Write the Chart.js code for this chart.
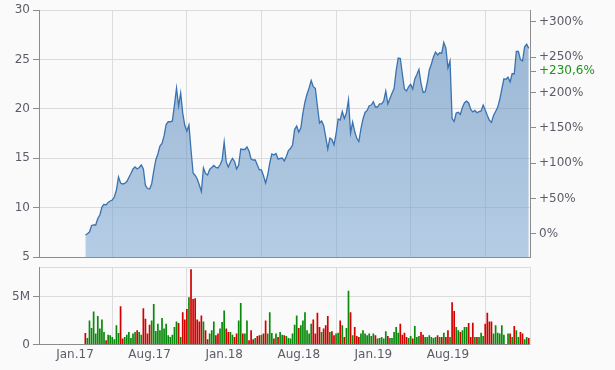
<!DOCTYPE html>
<html>
<head>
<meta charset="utf-8">
<script src="https://cdn.jsdelivr.net/npm/chart.js@4"></script>
<style>
  html, body { margin: 0; padding: 0; background: #fafafa; }
  #wrap { position: relative; width: 615px; height: 370px; overflow: hidden; }
  canvas { position: absolute; left: 0; }
  #priceChart { top: 0; }
  #volChart { top: 262px; }
</style>
</head>
<body>
<div id="wrap">
  <canvas id="priceChart" width="615" height="268"></canvas>
  <canvas id="volChart" width="615" height="108"></canvas>
</div>
<script>
// sample index of the first point (x axis unit: ~5 calendar days, 36 per half year)
const startIdx = 5;

// closing prices
const prices = [
  7.23, 7.35, 7.53, 8.19, 8.24, 8.24, 8.90, 9.25, 10.06, 10.33,
  10.26, 10.52, 10.67, 10.77, 11.07, 11.78, 13.10, 12.49, 12.39, 12.44,
  12.64, 13.05, 13.45, 13.91, 14.11, 13.91, 14.06, 14.31, 13.91, 12.24,
  11.93, 11.88, 12.39, 13.70, 14.82, 15.43, 16.23, 16.49, 17.25, 18.41,
  18.69, 18.69, 18.77, 20.38, 22.11, 20.28, 21.60, 19.57, 18.31, 17.75,
  18.36, 15.83, 13.50, 13.25, 12.89, 12.29, 11.63, 14.01, 13.45, 13.30,
  13.86, 14.06, 14.26, 14.06, 14.01, 14.31, 14.82, 16.64, 14.62, 14.11,
  14.62, 14.97, 14.67, 13.91, 14.31, 15.93, 15.88, 15.88, 16.13, 15.73,
  14.92, 14.82, 14.82, 14.31, 13.81, 13.81, 13.20, 12.49, 13.30, 14.51,
  15.43, 15.32, 15.48, 14.92, 14.97, 15.02, 14.72, 15.17, 15.78, 15.98,
  16.34, 17.90, 18.26, 17.65, 18.06, 19.57, 20.69, 21.50, 22.11, 22.86,
  22.24, 22.07, 20.28, 18.56, 18.77, 18.31, 17.15, 15.93, 17.04, 16.89,
  16.34, 17.45, 18.97, 18.87, 19.73, 19.02, 19.57, 20.89, 17.55, 18.66,
  17.70, 17.01, 16.69, 17.96, 18.97, 19.63, 19.83, 20.31, 20.38, 20.72,
  20.18, 20.18, 20.49, 20.49, 20.79, 21.80, 20.49, 21.04, 21.57, 22.05,
  23.83, 25.14, 25.09, 23.52, 22.00, 21.80, 22.21, 22.48, 22.00, 23.02,
  23.47, 23.98, 22.58, 21.65, 21.70, 22.61, 23.93, 24.53, 25.24, 25.75,
  25.45, 25.67, 25.63, 26.71, 26.15, 24.13, 24.84, 19.02, 18.71, 19.57,
  19.65, 19.42, 20.15, 20.62, 20.77, 20.59, 19.93, 19.68, 19.83, 19.60,
  19.71, 19.78, 20.38, 19.88, 19.32, 18.84, 18.63, 19.32, 19.73, 20.15,
  20.94, 22.00, 23.04, 22.99, 23.20, 22.71, 23.57, 23.52, 25.80, 25.80,
  24.98, 24.84, 26.28, 26.53, 26.12
];

// volume in millions
const volumes = [
  1.2, 0.69, 2.52, 1.72, 3.45, 1.14, 2.97, 1.66, 2.62, 1.31,
  0.45, 1.03, 0.97, 0.79, 0.55, 2.0, 1.21, 4.0, 0.62, 0.79,
  1.03, 1.31, 0.69, 1.14, 1.31, 1.48, 1.31, 1.03, 3.79, 2.69,
  1.14, 2.07, 2.52, 4.24, 1.41, 2.17, 1.48, 2.76, 1.66, 2.17,
  0.97, 0.79, 1.03, 1.83, 2.41, 2.24, 0.79, 3.38, 2.62, 3.72,
  4.93, 7.86, 4.76, 4.83, 2.62, 2.41, 3.03, 2.41, 1.48, 0.55,
  1.14, 1.48, 2.41, 0.97, 1.14, 1.66, 2.34, 3.55, 1.66, 1.31,
  1.31, 1.03, 0.79, 1.14, 2.52, 4.34, 1.14, 1.14, 2.52, 0.45,
  1.48, 0.55, 0.69, 0.9, 0.97, 1.03, 1.14, 2.52, 1.14, 3.38,
  1.21, 0.62, 1.14, 0.79, 1.31, 1.03, 0.97, 0.9, 0.69, 0.62,
  1.14, 2.07, 3.03, 1.72, 2.0, 2.52, 3.38, 1.48, 1.14, 2.17,
  2.62, 1.14, 3.31, 1.83, 1.31, 1.66, 2.0, 2.97, 1.31, 1.38,
  0.97, 1.14, 1.24, 2.52, 2.0, 0.79, 1.72, 5.62, 3.38, 0.97,
  1.83, 0.9, 0.79, 1.14, 1.48, 1.14, 0.97, 1.14, 0.9, 1.14,
  0.97, 0.62, 0.69, 0.79, 0.62, 1.38, 0.9, 0.69, 0.69, 1.31,
  1.83, 1.24, 2.17, 1.03, 1.24, 0.79, 0.69, 0.9, 0.62, 1.93,
  0.79, 0.9, 1.31, 1.03, 0.79, 0.79, 0.97, 0.79, 0.69, 0.79,
  0.97, 0.79, 0.79, 1.24, 0.79, 1.48, 0.79, 4.41, 3.5, 1.83,
  1.48, 1.31, 1.48, 1.83, 1.83, 2.24, 0.79, 2.28, 0.79, 0.79,
  0.79, 1.24, 0.9, 2.17, 3.31, 2.41, 2.41, 1.14, 2.0, 1.24,
  1.14, 2.0, 1.03, 0, 1.14, 1.14, 0.79, 1.93, 1.48, 0.79,
  1.31, 1.14, 0.55, 0.79, 0.69
];

const labelPos = [0, 36, 72, 108, 144, 180];
const labelNames = ['Jan.17', 'Aug.17', 'Jan.18', 'Aug.18', 'Jan.19', 'Aug.19'];
const gridPos = [18, 54, 90, 126, 162, 198];
const priceTicks = [5, 10, 15, 20, 25, 30];
const perfTicks = [0, 50, 100, 150, 200, 250, 300];
const lastPerf = 230.6;
const volTicks = [0, 5];

const xMin = -17.37, xMax = 219.6;
const perfMin = -32.55, perfMax = 316.98;
const volMax = 8.1;

const gray = '#5c5c68';
const axisGray = '#8c8c8c';
const gridGray = '#dcdcdc';
const green = '#1a961a';
const font = { family: "'DejaVu Sans', Verdana, sans-serif", size: 12 };

const priceData = prices.map((p, i) => ({ x: startIdx + i, y: p }));
const volData = volumes.map((v, i) => ({ x: startIdx + i, y: v }));
const volColors = prices.map((p, i) => (i > 0 && p >= prices[i - 1]) ? '#0a8a0a' : '#d40000');

function setTicks(list) {
  return axis => { axis.ticks = list.map(v => ({ value: v })); };
}

function fillGradient(ctx) {
  const area = ctx.chart.chartArea;
  if (!area) return 'rgba(100,148,196,0.55)';
  const g = ctx.chart.ctx.createLinearGradient(0, area.top, 0, area.bottom);
  g.addColorStop(0, 'rgba(76,127,180,0.56)');
  g.addColorStop(1, 'rgba(123,166,210,0.55)');
  return g;
}

new Chart(document.getElementById('priceChart'), {
  type: 'line',
  data: {
    datasets: [{
      data: priceData,
      borderColor: '#3a72b0',
      borderWidth: 1.3,
      pointRadius: 0,
      tension: 0,
      fill: 'start',
      backgroundColor: fillGradient
    }]
  },
  options: {
    responsive: false,
    animation: false,
    devicePixelRatio: 1,
    layout: { padding: { top: 10, bottom: 11, left: 0, right: 0 } },
    plugins: { legend: { display: false }, tooltip: { enabled: false } },
    scales: {
      x: {
        type: 'linear', min: xMin, max: xMax,
        afterBuildTicks: setTicks(gridPos),
        afterFit: s => { s.height = 0; },
        ticks: { display: false },
        grid: { color: gridGray, drawTicks: false },
        border: { color: axisGray }
      },
      y: {
        position: 'left', min: 5, max: 30,
        afterBuildTicks: setTicks(priceTicks),
        afterFit: s => { s.width = 39; s.paddingTop = 0; s.paddingBottom = 0; },
        ticks: { autoSkip: false, color: gray, font: font, padding: 3 },
        grid: { color: gridGray, tickLength: 6, tickColor: axisGray },
        border: { color: axisGray }
      },
      yr: {
        position: 'right', min: perfMin, max: perfMax,
        afterBuildTicks: setTicks(perfTicks.concat([lastPerf])),
        afterFit: s => { s.width = 85; s.paddingTop = 0; s.paddingBottom = 0; },
        ticks: {
          autoSkip: false,
          font: font,
          padding: 3,
          color: c => (c.tick && c.tick.value === lastPerf) ? green : gray,
          callback: v => v === 0 ? '0%' : '+' + String(v).replace('.', ',') + '%'
        },
        grid: { drawOnChartArea: false, tickLength: 6, tickColor: axisGray },
        border: { color: axisGray }
      }
    }
  }
});

new Chart(document.getElementById('volChart'), {
  type: 'bar',
  data: {
    datasets: [{
      data: volData,
      backgroundColor: volColors,
      borderWidth: 0,
      barPercentage: 0.82,
      categoryPercentage: 1
    }]
  },
  options: {
    responsive: false,
    animation: false,
    devicePixelRatio: 1,
    layout: { padding: { top: 5, bottom: 0, left: 0, right: 0 } },
    plugins: { legend: { display: false }, tooltip: { enabled: false } },
    scales: {
      x: {
        type: 'linear', min: xMin, max: xMax, offset: false,
        afterBuildTicks: setTicks(gridPos.concat(labelPos).sort((a, b) => a - b)),
        afterFit: s => { s.height = 25.5; s.paddingLeft = 0; s.paddingRight = 0; },
        ticks: {
          autoSkip: false, maxRotation: 0, color: gray, font: font, padding: 3,
          callback: v => labelPos.indexOf(v) >= 0 ? labelNames[labelPos.indexOf(v)] : ''
        },
        grid: {
          offset: false,
          drawTicks: false,
          color: c => (c.tick && labelPos.indexOf(c.tick.value) >= 0) ? 'rgba(0,0,0,0)' : gridGray
        },
        border: { color: axisGray }
      },
      xTop: {
        type: 'linear', position: 'top', min: xMin, max: xMax, offset: false,
        afterFit: s => { s.height = 0; s.paddingLeft = 0; s.paddingRight = 0; },
        ticks: { display: false },
        grid: { display: false },
        border: { color: gridGray }
      },
      y: {
        position: 'left', min: 0, max: volMax,
        afterBuildTicks: setTicks(volTicks),
        afterFit: s => { s.width = 39; s.paddingTop = 0; s.paddingBottom = 0; },
        ticks: {
          autoSkip: false, color: gray, font: font, padding: 3,
          callback: v => v === 0 ? '0' : v + 'M'
        },
        grid: { color: gridGray, tickLength: 6, tickColor: axisGray },
        border: { color: axisGray }
      },
      yr: {
        position: 'right', min: 0, max: volMax,
        afterFit: s => { s.width = 85; s.paddingTop = 0; s.paddingBottom = 0; },
        ticks: { display: false },
        grid: { display: false },
        border: { color: gridGray }
      }
    }
  }
});
</script>
</body>
</html>
